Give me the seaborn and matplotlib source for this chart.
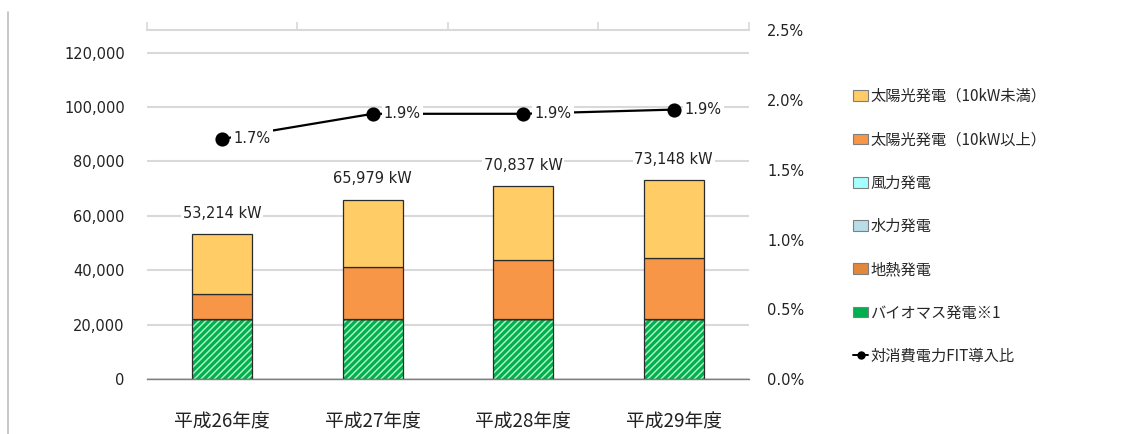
import matplotlib
matplotlib.use("Agg")
import matplotlib.pyplot as plt
from matplotlib.patches import Patch
from matplotlib.lines import Line2D
from matplotlib.ticker import FuncFormatter
import seaborn as sns

# ---- data -------------------------------------------------------------
years = ["平成26年度", "平成27年度", "平成28年度", "平成29年度"]
totals = [53214, 65979, 70837, 73148]             # kW, labelled above bars
biomass = [22000, 22000, 22000, 22000]
geothermal = [300, 300, 300, 300]
hydro = [0, 0, 0, 0]
wind = [0, 0, 0, 0]
solar_large = [9060, 18990, 21450, 22180]         # 10kW以上
solar_small = [t - b - g - h - w - s for t, b, g, h, w, s in
               zip(totals, biomass, geothermal, hydro, wind, solar_large)]
fit_ratio = [1.72, 1.90, 1.90, 1.93]              # % of consumption

series_names = ["太陽光発電（10kW未満）", "太陽光発電（10kW以上）", "風力発電",
                "水力発電", "地熱発電", "バイオマス発電※1"]
line_name = "対消費電力FIT導入比"

# ---- style ------------------------------------------------------------
sns.set_style("white")
plt.rcParams["font.family"] = ["DejaVu Sans", "Noto Sans CJK JP"]
plt.rcParams["hatch.linewidth"] = 1.1
JP = ["Noto Sans CJK JP", "DejaVu Sans"]

c_small = "#FFCC66"
c_large = "#F79646"
c_wind = "#A6FFFF"
c_hydro = "#B7DEE8"
c_geo = "#E3873B"
c_bio = "#00B050"
c_bio_hatch = "#A8F2BC"
edge = "#2b2b2b"
grid_c = "#D9D9D9"

fig = plt.figure(figsize=(11.28, 4.34), dpi=100)
ax = fig.add_axes([0.1303, 0.126, 0.5337, 0.805])

bar_w = 0.4
# biomass: green with light diagonal hatch, then a dark outline on top
sns.barplot(x=years, y=biomass, ax=ax, color=c_bio, width=bar_w,
            saturation=1, edgecolor=c_bio_hatch, linewidth=0, hatch="/////")
sns.barplot(x=years, y=biomass, ax=ax, color=edge, width=bar_w,
            fill=False, linewidth=0.9)

bottom = list(biomass)
for vals, col in [(geothermal, c_geo), (hydro, c_hydro), (wind, c_wind),
                  (solar_large, c_large), (solar_small, c_small)]:
    sns.barplot(x=years, y=vals, bottom=bottom, ax=ax, color=col,
                width=bar_w, saturation=1, edgecolor=edge, linewidth=0.9)
    bottom = [b + v for b, v in zip(bottom, vals)]

for i, t in enumerate(totals):
    ax.annotate(f"{t:,} kW", xy=(i, t), xytext=(0, 15),
                textcoords="offset points", ha="center", va="center",
                fontsize=10.5, color="#222222",
                bbox=dict(boxstyle="square,pad=0.1", fc="white", ec="none"))

ax.set_ylim(0, 128300)
ax.set_yticks(range(0, 120001, 20000))
ax.yaxis.set_major_formatter(FuncFormatter(lambda v, p: f"{int(v):,}"))
ax.yaxis.grid(True, color=grid_c, linewidth=1.5)
ax.set_axisbelow(True)
ax.set_xlim(-0.5, 3.5)
ax.set_xlabel("")
ax.set_ylabel("")
for s in ["left", "right", "top"]:
    ax.spines[s].set_visible(False)
ax.spines["bottom"].set_color("#7F7F7F")
ax.spines["bottom"].set_linewidth(1.0)
ax.spines["bottom"].set_zorder(5)
ax.tick_params(axis="y", length=0, pad=16, labelsize=10.5, labelcolor="#222222")
ax.tick_params(axis="x", length=0, pad=23, labelsize=13.5, labelcolor="#222222")
for lab in ax.get_xticklabels():
    lab.set_fontfamily(JP)

# light top border with outward tick marks at category boundaries
top = ax.secondary_xaxis("top")
top.set_xticks([-0.5, 0.5, 1.5, 2.5, 3.5])
top.set_xticklabels([""] * 5)
top.tick_params(direction="out", length=6, width=1.2, color=grid_c)
top.spines["top"].set_color(grid_c)
top.spines["top"].set_linewidth(1.5)

# ---- FIT ratio line on secondary axis ---------------------------------
ax2 = ax.twinx()
sns.pointplot(x=years, y=fit_ratio, ax=ax2, color="black", markers="o",
              markersize=9, linewidth=1.6, errorbar=None)
for i, r in enumerate(fit_ratio):
    ax2.annotate(f"{r:.1f}%", xy=(i, r), xytext=(8, 0),
                 textcoords="offset points", ha="left", va="center",
                 fontsize=10.5, color="#222222",
                 bbox=dict(boxstyle="square,pad=0.15", fc="white", ec="none"))
ax2.set_ylim(0, 2.5)
ax2.set_yticks([0, 0.5, 1.0, 1.5, 2.0, 2.5])
ax2.yaxis.set_major_formatter(FuncFormatter(lambda v, p: f"{v:.1f}%"))
ax2.set_ylabel("")
ax2.set_xlim(-0.5, 3.5)
for s in ax2.spines.values():
    s.set_visible(False)
ax2.tick_params(axis="y", length=0, pad=13, labelsize=10.5, labelcolor="#222222")

# ---- legend -----------------------------------------------------------
handles = [Patch(facecolor=c, edgecolor="#7F7F7F", linewidth=0.8)
           for c in [c_small, c_large, c_wind, c_hydro, c_geo, c_bio]]
handles.append(Line2D([], [], color="black", marker="o", markersize=5,
                      linewidth=1.4))
fig.legend(handles, series_names + [line_name], loc="upper left",
           bbox_to_anchor=(853 / 1128, 1 - 88 / 434), frameon=False,
           prop={"family": JP, "size": 11}, handlelength=1.0,
           handleheight=0.7, handletextpad=0.12, labelspacing=1.72,
           borderaxespad=0, borderpad=0)

# outer frame line on the left edge
fig.add_artist(Line2D([8 / 1128, 8 / 1128], [0, 1 - 12 / 434],
                      transform=fig.transFigure, color="#BFBFBF", linewidth=1.2))

fig.savefig("out.png", dpi=100)
